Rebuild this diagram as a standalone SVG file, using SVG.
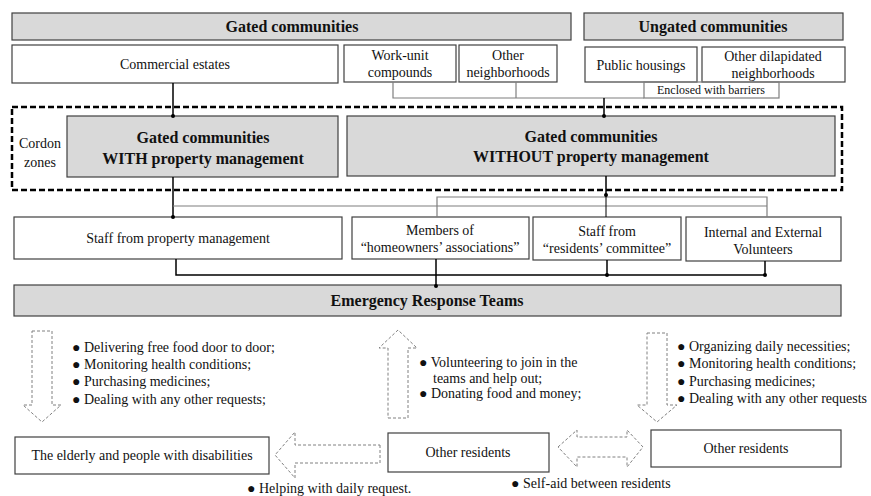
<svg xmlns="http://www.w3.org/2000/svg" width="871" height="496" viewBox="0 0 871 496" font-family="'Liberation Serif', 'DejaVu Serif', serif">
  <style>
    text { font-family: 'Liberation Serif', 'DejaVu Serif', serif; fill: #111; }
    .t { font-size: 14px; text-anchor: middle; }
    .tb { font-size: 16px; font-weight: bold; text-anchor: middle; }
    .ts { font-size: 12px; text-anchor: middle; }
    .bl { font-size: 14px; }
    .box { fill: #ffffff; stroke: #404040; stroke-width: 1.2; }
    .gbox { fill: #d9d9d9; stroke: #404040; stroke-width: 1.2; }
    .link { fill: none; stroke: #000; stroke-width: 1.5; }
    .thin { fill: none; stroke: #7f7f7f; stroke-width: 1.2; }
    .dot { fill: #000; }
    .cordon { fill: none; stroke: #000; stroke-width: 2.5; stroke-dasharray: 6 3; }
    .darr { fill: #fff; stroke: #808080; stroke-width: 1; stroke-dasharray: 3 2; }
  </style>

  <!-- community types -->
  <g id="gated-header"><rect class="gbox" x="12" y="13" width="559" height="27"/><text class="tb" x="292" y="32">Gated communities</text></g>
  <g id="ungated-header"><rect class="gbox" x="584" y="13" width="259" height="27"/><text class="tb" x="713" y="32">Ungated communities</text></g>
  <g id="commercial"><rect class="box" x="12" y="45" width="326" height="38"/><text class="t" x="175" y="69">Commercial estates</text></g>
  <g id="work-unit"><rect class="box" x="344" y="45" width="112" height="37"/><text class="t" x="400" y="60">Work-unit</text><text class="t" x="400" y="77">compounds</text></g>
  <g id="other-neigh"><rect class="box" x="459" y="45" width="98" height="37"/><text class="t" x="508" y="60">Other</text><text class="t" x="508" y="77">neighborhoods</text></g>
  <g id="public-housings"><rect class="box" x="585" y="47" width="112" height="35"/><text class="t" x="641" y="70">Public housings</text></g>
  <g id="dilapidated"><rect class="box" x="702" y="47" width="143" height="35"/><text class="t" x="773" y="61">Other dilapidated</text><text class="t" x="773" y="78">neighborhoods</text></g>
  <g id="enclosed"><rect class="thin" x="644" y="82" width="135" height="16"/><text class="ts" x="711" y="94">Enclosed with barriers</text></g>

  <!-- cordon zones -->
  <g id="cordon"><rect class="cordon" x="12" y="107" width="830" height="83"/><text class="t" x="40" y="148">Cordon</text><text class="t" x="40" y="167">zones</text></g>
  <g id="with-pm"><rect class="gbox" x="67" y="116" width="271" height="61"/><text class="tb" x="203" y="143">Gated communities</text><text class="tb" x="203" y="164">WITH property management</text></g>
  <g id="without-pm"><rect class="gbox" x="347" y="116" width="488" height="60"/><text class="tb" x="591" y="142">Gated communities</text><text class="tb" x="591" y="162">WITHOUT property management</text></g>

  <!-- staff -->
  <g id="staff-pm"><rect class="box" x="14" y="217" width="328" height="42"/><text class="t" x="178" y="243">Staff from property management</text></g>
  <g id="homeowners"><rect class="box" x="352" y="217" width="177" height="42"/><text class="t" x="440" y="235">Members of</text><text class="t" x="440" y="252">“homeowners’ associations”</text></g>
  <g id="residents-committee"><rect class="box" x="533" y="217" width="148" height="43"/><text class="t" x="607" y="236">Staff from</text><text class="t" x="607" y="253">“residents’ committee”</text></g>
  <g id="volunteers"><rect class="box" x="686" y="217" width="155" height="44"/><text class="t" x="763" y="237">Internal and External</text><text class="t" x="763" y="254">Volunteers</text></g>

  <g id="ert"><rect class="gbox" x="14" y="285" width="827" height="31"/><text class="tb" x="427" y="306">Emergency Response Teams</text></g>

  <!-- residents -->
  <g id="elderly"><rect class="box" x="15" y="437" width="254" height="37"/><text class="t" x="142" y="460">The elderly and people with disabilities</text></g>
  <g id="residents-mid"><rect class="box" x="388" y="433" width="161" height="39"/><text class="t" x="468" y="457">Other residents</text></g>
  <g id="residents-right"><rect class="box" x="651" y="430" width="190" height="37"/><text class="t" x="746" y="453">Other residents</text></g>

  <!-- connectors -->
  <g id="connectors">
    <polyline class="thin" points="393,82 393,98 644,98"/>
    <line class="thin" x1="516" y1="82" x2="516" y2="98"/>
    <line class="link" x1="173" y1="83" x2="173" y2="116"/>
    <circle class="dot" cx="173" cy="116" r="2"/>
    <line class="link" x1="604" y1="98" x2="604" y2="116"/>
    <circle class="dot" cx="604" cy="116" r="2"/>

    <line class="link" x1="173" y1="177" x2="173" y2="217"/>
    <circle class="dot" cx="173" cy="217" r="2"/>
    <line class="thin" x1="173" y1="206" x2="767" y2="206"/>
    <polyline class="thin" points="437,217 437,197 767,197 767,217"/>
    <line class="link" x1="606" y1="176" x2="606" y2="195"/>
    <line x1="606" y1="195" x2="606" y2="217" stroke="#000" stroke-width="1"/>
    <circle class="dot" cx="606" cy="195" r="2"/>

    <polyline class="link" points="176,259 176,275 765,275 765,261"/>
    <line class="link" x1="436" y1="259" x2="436" y2="286"/>
    <line class="link" x1="607" y1="260" x2="607" y2="275"/>
    <circle class="dot" cx="436" cy="286" r="2"/>
    <circle class="dot" cx="607" cy="275" r="2"/>
    <circle class="dot" cx="765" cy="275" r="2"/>

    <!-- hollow dashed arrows -->
    <polygon class="darr" points="32,331 52,331 52,405 61,405 42,422 23,405 32,405"/>
    <polygon class="darr" points="388,418 408,418 408,348 417,348 398,330 379,348 388,348"/>
    <polygon class="darr" points="647,333 667,333 667,405 677,405 657,422 637,405 647,405"/>
    <polygon class="darr" points="380,445 380,463 295,463 295,478 275,455 295,432 295,445"/>
    <polygon class="darr" points="558,447 577,430 577,437 627,437 627,430 643,447 627,467 627,457 577,457 577,467"/>
  </g>

  <!-- activity notes -->
  <g id="notes">
    <text class="bl" x="72" y="352">● Delivering free food door to door;</text>
    <text class="bl" x="72" y="369">● Monitoring health conditions;</text>
    <text class="bl" x="72" y="386">● Purchasing medicines;</text>
    <text class="bl" x="72" y="404">● Dealing with any other requests;</text>

    <text class="bl" x="419" y="367">● Volunteering to join in the</text>
    <text class="bl" x="433" y="383">teams and help out;</text>
    <text class="bl" x="419" y="398">● Donating food and money;</text>

    <text class="bl" x="677" y="351">● Organizing daily necessities;</text>
    <text class="bl" x="677" y="368">● Monitoring health conditions;</text>
    <text class="bl" x="677" y="386">● Purchasing medicines;</text>
    <text class="bl" x="677" y="403">● Dealing with any other requests</text>

    <text class="bl" x="247" y="493">● Helping with daily request.</text>
    <text class="bl" x="511" y="488">● Self-aid between residents</text>
  </g>
</svg>
